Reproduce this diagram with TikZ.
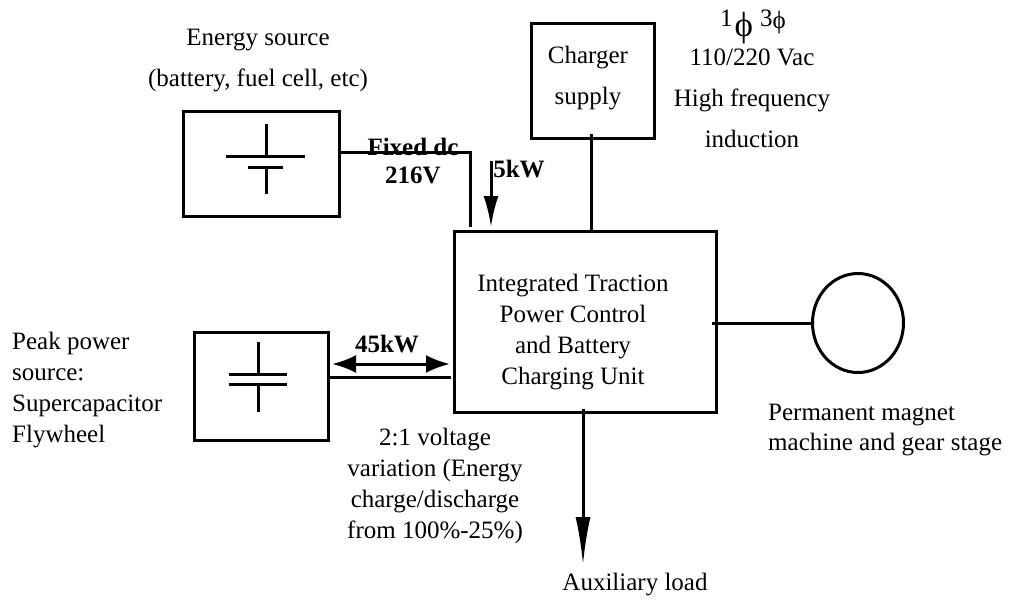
\documentclass[tikz,border=0pt]{standalone}
\usepackage{fontspec}
\setmainfont{Liberation Serif}
\usetikzlibrary{arrows.meta,shapes.geometric}

\begin{document}
\begin{tikzpicture}[
  x=1pt, y=-1pt,
  box/.style={rectangle, draw, line width=3pt, inner sep=0pt},
  wire/.style={line width=3pt},
  symline/.style={line width=3pt},
  arrow/.style={line width=3pt, -{Latex[length=31pt, width=15pt]}},
  label/.style={font=\fontsize{25}{31}\selectfont, align=center, inner sep=0pt},
  widelabel/.style={font=\fontsize{25}{41}\selectfont, align=center, inner sep=0pt},
  boldlabel/.style={font=\fontsize{25}{31}\selectfont\bfseries, align=center, inner sep=0pt},
]
\useasboundingbox (0,0) rectangle (1012,600);

% === BOXES ===
\node[box, minimum width=156pt, minimum height=105pt] (energy) at (261, 163.5) {};
\node[box, minimum width=134pt, minimum height=108pt] (peak) at (261, 386) {};
\node[box, minimum width=123pt, minimum height=115pt] (charger) at (592.5, 80.5) {};
\node[box, minimum width=262pt, minimum height=181pt] (unit) at (585, 321.5) {};
\node[draw, ellipse, line width=3pt, minimum width=91pt, minimum height=99pt, inner sep=0pt] (machine) at (858, 323) {};

% battery symbol
\coordinate (battop) at (266, 124);
\coordinate (batbot) at (266, 194);
\coordinate (batla) at (226, 156);
\coordinate (batlb) at (305, 156);
\coordinate (batsa) at (248, 167);
\coordinate (batsb) at (283, 167);
\draw[symline] (battop) -- (266, 156);
\draw[symline] (batla) -- (batlb);
\draw[symline] (batsa) -- (batsb);
\draw[symline] (266, 167) -- (batbot);

% capacitor symbol
\coordinate (captop) at (258, 342);
\coordinate (capbot) at (258, 412);
\coordinate (capla) at (229, 374);
\coordinate (caplb) at (287, 374);
\coordinate (capsa) at (229, 384);
\coordinate (capsb) at (287, 384);
\draw[symline] (captop) -- (258, 374);
\draw[symline] (capla) -- (caplb);
\draw[symline] (capsa) -- (capsb);
\draw[symline] (258, 384) -- (capbot);

% === CONNECTORS ===
\coordinate (dcend) at (470, 227);
\coordinate (dcstart) at (339, 152);
\coordinate (peakend) at (451, 377);
\coordinate (peakstart) at (328, 377);
\coordinate (chgstart) at (591, 134);
\coordinate (chgend) at (591, 231);
\coordinate (motstart) at (712, 323);
\coordinate (auxstart) at (583, 409);
\coordinate (auxend) at (583, 565);
\coordinate (kwtop) at (491, 161);
\coordinate (kwend) at (491, 227);
\coordinate (peakl) at (332, 364);
\coordinate (peakr) at (450, 364);

\draw[wire] (dcstart) -| (dcend);
\draw[wire] (peakstart) -- (peakend);
\draw[wire] (chgstart) -- (chgend);
\draw[wire] (motstart) -- (machine.west);
\draw[arrow, -{Latex[length=48pt, width=15pt]}] (auxstart) -- (auxend);
\draw[arrow] (kwtop) -- (kwend);
\draw[arrow, {Latex[length=24pt, width=18pt]}-{Latex[length=24pt, width=18pt]}] (peakl) -- (peakr);

% === LABELS ===
\node[widelabel] (src) at (258, 60.5) {Energy source\\(battery, fuel cell, etc)};
\node[widelabel] (chgtxt) at (588, 78.5) {Charger\\supply};
\node[label, anchor=base] (phi) at (753, 36) {\raisebox{10pt}{1}\hspace{2pt}{\fontsize{35}{35}\selectfont ϕ}\hspace{7pt}\raisebox{10pt}{3}\raisebox{8pt}{ϕ}};
\node[widelabel] (vac) at (752, 98) {110/220 Vac\\High frequency\\induction};
\node[label, align=left, anchor=west] (pps) at (12, 390) {Peak power\\source:\\Supercapacitor\\Flywheel};
\node[label] (ctl) at (573, 332) {Integrated Traction\\Power Control\\and Battery\\Charging Unit};
\node[label, align=left, anchor=west, font=\fontsize{25}{30}\selectfont] (pm) at (768, 430.5) {Permanent magnet\\machine and gear stage};
\node[label] (var) at (435, 486) {2:1 voltage\\variation (Energy\\charge/discharge\\from 100\%-25\%)};
\node[label] (aux) at (635, 585) {Auxiliary load};
\node[boldlabel] (fix) at (413, 147) {Fixed dc};
\node[boldlabel] (volt) at (413, 175) {216V};
\node[boldlabel] (fivekw) at (519, 169) {5kW};
\node[boldlabel] (fortyfive) at (387, 344) {45kW};
\end{tikzpicture}
\end{document}
